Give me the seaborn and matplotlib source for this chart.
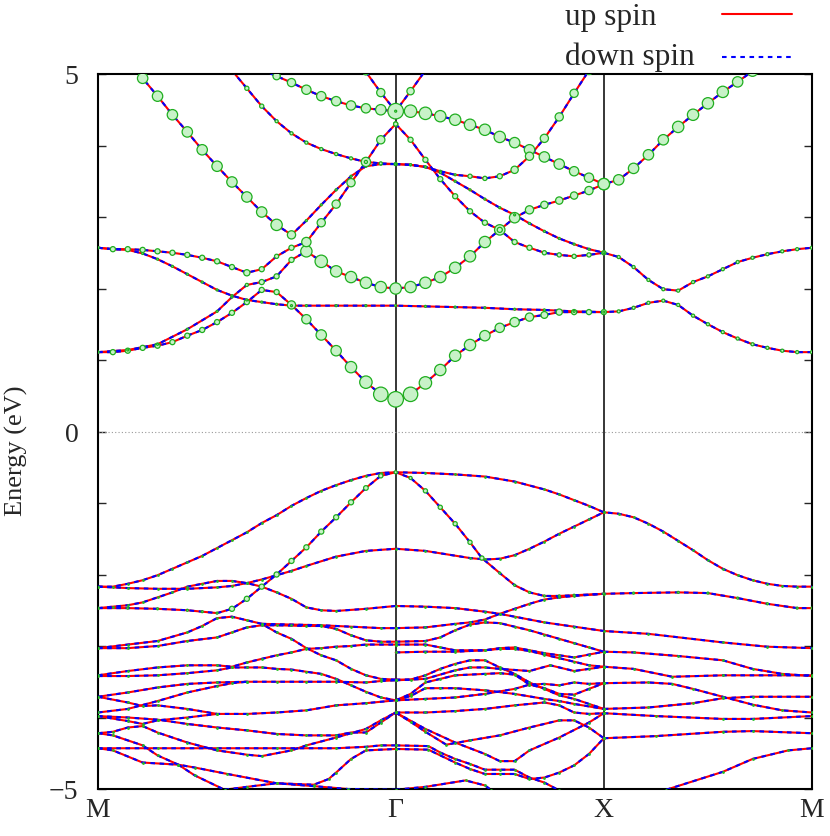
import numpy as np
import pandas as pd
import matplotlib
matplotlib.use('Agg')
import matplotlib.pyplot as plt
import seaborn as sns
from matplotlib.lines import Line2D

# k-path M -> Gamma -> X -> M, positions given as k-point index along the path
seg_len = [1.43, 1.0, 1.0]
seg_pts = [20, 14, 14]
k_labels = ['M', 'Γ', 'X', 'M']
legend_labels = ['up spin', 'down spin']

# conduction bands with orbital weight: (k index, energy in eV, weight 0..1)
cb_a = [(0, 1.11, .13), (1, 1.11, .33), (2, 1.13, .33), (3, 1.17, .33), (4, 1.20, .33), (5, 1.25, .33),
        (6, 1.34, .33), (7, 1.42, .33), (8, 1.53, .33), (9, 1.66, .33), (10, 1.81, .33), (11, 1.98, .33),
        (12, 1.95, .33), (13, 1.77, .53), (14, 1.57, .6), (15, 1.35, .67), (16, 1.13, .67), (17, 0.90, .73),
        (18, 0.69, .8), (19, 0.52, .93), (20, 0.45, 1.0), (21, 0.52, .93), (22, 0.68, .8), (23, 0.86, .73),
        (24, 1.06, .73), (25, 1.21, .73), (26, 1.34, .67), (27, 1.45, .6), (28, 1.53, .6), (29, 1.60, .53),
        (30, 1.63, .44), (31, 1.67, .4), (32, 1.67, .33), (33, 1.67, .33), (34, 1.67, .33), (35, 1.68, .2),
        (36, 1.73, .2), (37, 1.80, .2), (38, 1.83, .2), (39, 1.77, .2), (40, 1.62, .2), (41, 1.50, .2),
        (42, 1.39, .2), (43, 1.30, .2), (44, 1.22, .2), (45, 1.17, .2), (46, 1.13, .2), (47, 1.11, .2),
        (48, 1.11, .2)]
cb_flat = [(0, 2.57, .13), (1, 2.55, .13), (2, 2.54, .13), (3, 2.49, .13), (4, 2.41, .13), (5, 2.31, .13),
           (6, 2.20, .13), (7, 2.09, .13), (8, 1.98, .13), (9, 1.90, .13), (10, 1.84, .13), (11, 1.81, .13),
           (12, 1.78, .13), (13, 1.76, .13), (14, 1.76, .13), (16, 1.76, .13), (18, 1.76, .13), (20, 1.76, .13),
           (22, 1.75, .13), (24, 1.74, .13), (26, 1.73, .13), (28, 1.71, .13), (30, 1.70, .13), (32, 1.68, .13),
           (34, 1.67, .13)]
cb_b = [(0, 1.11, .13), (2, 1.14, .13), (4, 1.22, .13), (6, 1.43, .13), (8, 1.68, .13), (9, 1.88, .13),
        (10, 2.05, .2), (11, 2.09, .33), (12, 2.17, .33), (13, 2.40, .33), (14, 2.52, .73), (15, 2.38, .8),
        (16, 2.24, .73), (17, 2.16, .73), (18, 2.08, .73), (19, 2.02, .73), (20, 2.00, .73), (21, 2.02, .73),
        (22, 2.08, .73), (23, 2.16, .73), (24, 2.29, .73), (25, 2.45, .73), (26, 2.65, .73), (27, 2.82, .67),
        (28, 2.99, .67), (29, 3.10, .53), (30, 3.17, .47), (31, 3.23, .47), (32, 3.30, .47), (33, 3.37, .53),
        (34, 3.46, .73), (35, 3.52, .67), (36, 3.68, .67), (37, 3.87, .67), (38, 4.08, .67), (39, 4.26, .73),
        (40, 4.43, .73), (41, 4.59, .73), (42, 4.75, .73), (43, 4.89, .67), (44, 5.04, .67)]
cb_big = [(11, 5.06, .4), (12, 4.97, .47), (13, 4.88, .53), (14, 4.78, .6), (15, 4.69, .6), (16, 4.62, .6),
          (17, 4.56, .6), (18, 4.52, .6), (19, 4.50, .67), (20, 4.48, 1.0), (21, 4.48, .8), (22, 4.45, .8),
          (23, 4.41, .73), (24, 4.36, .73), (25, 4.29, .73), (26, 4.22, .73), (27, 4.12, .73), (28, 4.04, .67),
          (29, 3.94, .67), (30, 3.84, .67), (31, 3.74, .67), (32, 3.64, .6), (33, 3.55, .6), (34, 3.46, .73)]
cb_steep = [(2, 5.20, .67), (3, 4.94, .67), (4, 4.69, .67), (5, 4.43, .67), (6, 4.19, .67), (7, 3.94, .67),
            (8, 3.71, .67), (9, 3.49, .67), (10, 3.28, .67), (11, 3.07, .67), (12, 2.89, .73), (13, 2.75, .53),
            (14, 2.95, .13), (15, 3.17, .13), (16, 3.38, .13), (17, 3.57, .13), (18, 3.71, .13), (19, 3.74, .13),
            (20, 3.74, .13)]
cb_beta = [(0, 2.57, .13), (1, 2.55, .33), (2, 2.55, .33), (3, 2.54, .33), (4, 2.52, .33), (5, 2.50, .33),
           (6, 2.47, .33), (7, 2.43, .33), (8, 2.38, .33), (9, 2.30, .33), (10, 2.22, .4), (11, 2.27, .33),
           (12, 2.45, .27), (13, 2.57, .33), (14, 2.65, .6), (15, 2.92, .53), (16, 3.18, .53), (17, 3.48, .53),
           (18, 3.77, .6), (19, 4.08, .53), (20, 4.30, .27)]
cb_kappa = [(9, 5.05, .2), (10, 4.80, .27), (11, 4.55, .27), (12, 4.34, .2), (13, 4.17, .2), (14, 4.04, .2),
            (15, 3.95, .2), (16, 3.88, .2), (17, 3.82, .2), (18, 3.77, .2), (19, 3.75, .2), (20, 3.74, .2)]
cb_v = [(18, 5.03, .4), (19, 4.74, .53), (20, 4.48, .13), (21, 4.76, .47), (22, 5.05, .4)]
cb_delta = [(20, 4.30, .27), (21, 4.08, .33), (22, 3.80, .33), (23, 3.53, .33), (24, 3.29, .33), (25, 3.08, .33),
            (26, 2.92, .33), (27, 2.82, .33), (28, 2.65, .33), (29, 2.57, .33), (30, 2.50, .27), (31, 2.47, .27),
            (32, 2.45, .27), (33, 2.47, .27), (34, 2.50, .27)]
cb_zeta = [(20, 3.74, .13), (21, 3.73, .13), (22, 3.70, .13), (23, 3.64, .13), (24, 3.59, .13), (25, 3.57, .27),
           (26, 3.54, .27), (27, 3.57, .33), (28, 3.66, .47), (29, 3.85, .53), (30, 4.10, .53), (31, 4.40, .53),
           (32, 4.73, .53), (33, 5.05, .53)]
cb_eps = [(20, 3.74, .13), (21, 3.73, .13), (22, 3.70, .13), (23, 3.62, .13), (24, 3.50, .13), (25, 3.38, .13),
          (26, 3.25, .13), (27, 3.13, .13), (28, 3.03, .13), (29, 2.91, .13), (30, 2.80, .13), (31, 2.70, .13),
          (32, 2.62, .13), (33, 2.55, .13), (34, 2.50, .13), (35, 2.44, .2), (36, 2.30, .2), (37, 2.12, .2),
          (38, 1.99, .2), (39, 1.97, .2), (40, 2.09, .2), (41, 2.17, .2), (42, 2.27, .2), (43, 2.37, .2),
          (44, 2.43, .2), (45, 2.48, .2), (46, 2.52, .2), (47, 2.55, .2), (48, 2.57, .2)]
vb2 = [(0, -2.47, .13), (2, -2.47, .13), (4, -2.48, .13), (6, -2.50, .13), (7, -2.52, .13), (8, -2.54, .13),
       (9, -2.48, .33), (10, -2.34, .33), (11, -2.17, .33), (12, -2.00, .33), (13, -1.81, .33), (14, -1.62, .33),
       (15, -1.40, .33), (16, -1.20, .33), (17, -0.99, .33), (18, -0.79, .3), (19, -0.62, .27), (20, -0.57, .2),
       (21, -0.65, .2), (22, -0.83, .27), (23, -1.06, .27), (24, -1.29, .27), (25, -1.55, .27), (25.8, -1.77, .27),
       (27, -1.98, .13), (28, -2.15, .13), (29, -2.25, .13), (30, -2.30, .13), (31, -2.30, .13), (32, -2.29, .13),
       (34, -2.27, .13), (36, -2.26, .13), (39, -2.25, .13), (41, -2.26, .13), (43, -2.33, .13), (45, -2.41, .13),
       (47, -2.47, .13), (48, -2.47, .13)]

# valence bands: (k index, energy in eV)
vb1 = [(0, -2.17), (1, -2.17), (2, -2.13), (3, -2.08), (4, -2.01), (5, -1.92), (6, -1.83), (7, -1.74),
       (8, -1.63), (9, -1.52), (10, -1.41), (11, -1.28), (12, -1.17), (13, -1.04), (14, -0.93), (15, -0.83),
       (16, -0.75), (17, -0.68), (18, -0.62), (19, -0.58), (20, -0.57), (22, -0.58), (24, -0.60), (26, -0.63),
       (28, -0.70), (30, -0.81), (31, -0.88), (32, -0.96), (33, -1.04), (34, -1.13), (35, -1.15), (36, -1.20),
       (37, -1.29), (38, -1.40), (39, -1.53), (40, -1.66), (41, -1.80), (42, -1.92), (43, -2.01), (44, -2.08),
       (45, -2.13), (46, -2.16), (47, -2.17), (48, -2.17)]
vb3 = [(0, -2.17), (2, -2.19), (4, -2.20), (6, -2.20), (8, -2.18), (9, -2.16), (10, -2.12), (11, -2.07),
       (12, -2.01), (13, -1.95), (14, -1.88), (16, -1.75), (18, -1.67), (20, -1.64), (22, -1.67), (25, -1.77),
       (26, -1.79), (27, -1.78), (28, -1.73), (29, -1.64), (30, -1.54), (31, -1.43), (32, -1.33), (33, -1.23),
       (34, -1.13)]
vb4 = [(0, -2.47), (1, -2.45), (2, -2.43), (3, -2.39), (4, -2.32), (5, -2.25), (6, -2.17), (7, -2.13),
       (8, -2.09), (9, -2.09), (10, -2.12), (11, -2.17), (12, -2.25), (13, -2.34), (14, -2.46), (15, -2.50),
       (16, -2.51), (18, -2.48), (20, -2.44), (22, -2.45), (24, -2.47), (26, -2.52), (27, -2.55), (28, -2.59),
       (30, -2.67), (32, -2.73), (34, -2.79), (37, -2.83), (42, -2.95), (45, -3.01), (48, -3.03)]
mg5 = [(0, -3.03), (2, -2.98), (4, -2.93), (6, -2.81), (7, -2.72), (8, -2.61), (9, -2.59), (10, -2.64),
       (11, -2.69), (12, -2.81), (13, -2.90), (14, -3.03), (15, -3.13), (16, -3.20), (17, -3.32), (18, -3.41),
       (19, -3.46), (20, -3.47)]
mg6 = [(0, -3.03), (2, -3.03), (4, -3.00), (6, -2.93), (8, -2.88), (9, -2.81), (10, -2.74), (11, -2.71),
       (12, -2.71), (14, -2.72), (15, -2.72), (16, -2.76), (17, -2.85), (18, -2.92), (19, -2.94), (20, -2.94)]
mg7 = [(11, -2.69), (13, -2.70), (15, -2.71), (17, -2.73), (19, -2.75), (20, -2.75)]
mg8 = [(0, -3.41), (2, -3.35), (4, -3.30), (6, -3.27), (8, -3.27), (9, -3.29), (10, -3.23), (11, -3.18),
       (12, -3.13), (13, -3.09), (14, -3.04), (15, -3.03), (16, -3.01), (17, -3.00), (18, -2.98), (20, -2.98)]
mg9 = [(0, -3.42), (2, -3.42), (4, -3.41), (6, -3.38), (8, -3.34), (9, -3.30), (10, -3.30), (11, -3.30),
       (12, -3.32), (13, -3.33), (14, -3.36), (15, -3.39), (16, -3.46), (17, -3.55), (18, -3.64), (19, -3.72),
       (20, -3.76)]
mg10 = [(0, -3.71), (2, -3.65), (4, -3.58), (6, -3.53), (8, -3.51), (10, -3.50), (12, -3.50), (14, -3.50),
        (16, -3.50), (18, -3.51), (19, -3.49), (20, -3.48)]
mg11 = [(0, -3.71), (2, -3.79), (3, -3.84), (4, -3.83), (6, -3.88), (8, -3.95), (10, -3.95), (12, -3.93),
        (14, -3.90), (16, -3.83), (18, -3.80), (20, -3.76)]
mg12 = [(0, -3.93), (2, -3.88), (4, -3.77), (6, -3.65), (8, -3.56), (9, -3.52), (10, -3.50)]
mg13 = [(0, -3.98), (2, -4.05), (3, -4.09), (4, -4.04), (6, -4.00), (8, -3.95)]
mg14 = [(0, -3.98), (2, -4.00), (4, -4.03), (6, -4.09), (8, -4.14), (10, -4.18), (12, -4.23), (14, -4.25),
        (15, -4.25), (16, -4.25), (17, -4.21), (18, -4.21), (19, -4.07), (20, -3.93)]
mg15 = [(0, -4.22), (1, -4.20), (2, -4.14), (3, -4.12), (4, -4.21), (6, -4.35), (8, -4.46), (10, -4.52),
        (11, -4.54), (13, -4.46), (14, -4.39), (16, -4.28), (18, -4.16), (19, -4.04), (20, -3.93)]
mg16 = [(0, -4.22), (1, -4.25), (3, -4.39), (4, -4.53), (5.4, -4.66), (6.5, -4.70), (8.7, -4.79), (12, -4.92),
        (14.5, -4.96), (16.8, -5.00), (20, -5.01)]
mg17 = [(0, -4.43), (4, -4.43), (8, -4.43), (12, -4.43), (16, -4.43), (18, -4.41), (19, -4.39), (20, -4.39)]
mg18 = [(0, -4.43), (1, -4.46), (3, -4.63), (5.4, -4.66), (6.5, -4.81), (8.5, -5.01), (9, -5.05)]
mg19 = [(8.5, -5.01), (10, -4.97), (12, -4.92), (14.5, -4.94), (15.5, -4.86), (16, -4.77), (17, -4.58),
        (18, -4.46), (20, -4.44)]
gx_b = [(20, -2.75), (22, -2.74), (24, -2.69), (25, -2.67), (26, -2.63), (27, -2.55), (28, -2.48), (29, -2.41),
        (30, -2.35), (31, -2.32), (32, -2.30), (34, -2.27)]
gx_c = [(20, -2.94), (22, -2.93), (23, -2.88), (24, -2.78), (25, -2.70), (26, -2.67), (27, -2.68), (28, -2.73),
        (29, -2.78), (30, -2.84), (31, -2.90), (32, -2.96), (33, -3.02), (34, -3.08)]
gx_d = [(20, -2.98), (22, -2.98), (23, -3.02), (24, -3.06), (26, -3.06), (27, -3.03), (28, -3.02), (29, -3.06),
        (30, -3.10), (31, -3.13), (32, -3.16), (33, -3.12), (34, -3.08)]
gx_e = [(20, -3.09), (22, -3.08), (24, -3.08), (26, -3.06), (27, -3.04), (28, -3.04), (29, -3.07), (30, -3.12),
        (31, -3.17), (32, -3.22), (33, -3.27), (34, -3.29)]
gx_f = [(20, -3.47), (21, -3.47), (22, -3.41), (23, -3.32), (24, -3.25), (25, -3.20), (26, -3.20), (27, -3.30),
        (28, -3.39), (29, -3.51), (30, -3.60), (31, -3.69), (32, -3.74), (33, -3.81), (34, -3.88)]
gx_g = [(20, -3.48), (22, -3.46), (24, -3.34), (25, -3.30), (26, -3.30), (27, -3.32), (29, -3.35), (30.4, -3.27),
        (32, -3.35), (33, -3.32), (34, -3.29)]
gx_h = [(20, -3.76), (21, -3.67), (22, -3.51), (23, -3.46), (24, -3.41), (26, -3.39), (27, -3.38), (28, -3.40),
        (29, -3.54), (30, -3.59), (31, -3.67), (32, -3.68), (33, -3.60), (34, -3.52)]
gx_i = [(20, -3.76), (21, -3.70), (22, -3.59), (23, -3.59), (24, -3.59), (26, -3.62), (28, -3.67), (30, -3.74),
        (31, -3.77), (32, -3.81), (34, -3.88)]
gx_j = [(20, -3.76), (22, -3.74), (24, -3.72), (26, -3.67), (28, -3.60), (29, -3.54), (30, -3.53), (31, -3.55),
        (32, -3.51), (33, -3.53), (34, -3.52)]
gx_k = [(20, -3.93), (22, -3.93), (24, -3.91), (26, -3.88), (28, -3.83), (30, -3.79), (31, -3.83), (32, -3.93),
        (33, -3.95), (34, -3.94)]
gx_l = [(20, -3.93), (21, -4.06), (22, -4.20), (23.4, -4.38), (25, -4.32), (27, -4.25), (29, -4.14), (31, -4.04),
        (32, -4.04), (33, -4.14), (34, -4.29)]
gx_m = [(20, -3.93), (22, -4.16), (24, -4.35), (26, -4.51), (27, -4.61), (28, -4.61), (29, -4.46), (31, -4.28),
        (33, -4.07), (34, -3.94)]
gx_n = [(20, -4.39), (22.2, -4.40), (23, -4.49), (24, -4.58), (25, -4.65), (26, -4.73), (27, -4.73), (28, -4.73),
        (29, -4.84), (30, -4.91), (31, -5.02)]
gx_o = [(20, -4.44), (22.2, -4.45), (24, -4.63), (25, -4.72), (26, -4.79), (27, -4.79), (28, -4.79), (29, -4.86),
        (30, -4.84), (31, -4.77), (32, -4.67), (33, -4.51), (34, -4.29)]
gx_p = [(20, -5.01), (22, -4.97), (24.7, -4.88), (26, -4.95), (26.4, -5.01)]
xm_3 = [(34, -3.08), (36, -3.09), (39, -3.14), (42, -3.20), (44, -3.32), (46, -3.39), (48, -3.42)]
xm_4 = [(34, -3.29), (36, -3.32), (38.6, -3.43), (42, -3.41), (48, -3.41)]
xm_5 = [(34, -3.52), (37, -3.51), (38.6, -3.53), (40, -3.60), (42, -3.71), (44, -3.82), (46, -3.90), (48, -3.93)]
xm_6 = [(34, -3.88), (37, -3.86), (40, -3.80), (42, -3.73), (44, -3.71), (48, -3.71)]
xm_7 = [(34, -3.94), (37.5, -3.98), (42, -4.02), (44, -4.02), (48, -3.98)]
xm_8 = [(34, -4.29), (37.5, -4.26), (42, -4.20), (44, -4.19), (48, -4.22)]
xm_9 = [(38.2, -5.01), (42, -4.76), (44, -4.58), (46.4, -4.46), (48, -4.43)]

weighted = [cb_a, cb_flat, cb_b, cb_big, cb_steep, cb_beta, cb_kappa, cb_v, cb_delta, cb_zeta, cb_eps, vb2]
plain = [vb1, vb3, vb4, mg5, mg6, mg7, mg8, mg9, mg10, mg11, mg12, mg13, mg14, mg15, mg16, mg17, mg18, mg19,
         gx_b, gx_c, gx_d, gx_e, gx_f, gx_g, gx_h, gx_i, gx_j, gx_k, gx_l, gx_m, gx_n, gx_o, gx_p,
         xm_3, xm_4, xm_5, xm_6, xm_7, xm_8, xm_9]

bounds = np.cumsum([0] + seg_pts)
starts = np.cumsum([0] + seg_len)


def kdist(i):
    for s in range(len(seg_pts)):
        if i <= bounds[s + 1]:
            return starts[s] + (i - bounds[s]) / seg_pts[s] * seg_len[s]
    return starts[-1]


rows = []
for b, pts in enumerate(weighted):
    for p in pts:
        rows.append((f'w{b}', kdist(p[0]), p[1], p[2]))
for b, pts in enumerate(plain):
    for p in pts:
        rows.append((f'p{b}', kdist(p[0]), p[1], np.nan))
df = pd.DataFrame(rows, columns=['band', 'k', 'E', 'w'])

sns.set_style('white')
plt.rcParams['font.family'] = ['Liberation Serif', 'DejaVu Serif']

fig = plt.figure(figsize=(8.3, 8.37), dpi=100)
ax = fig.add_axes([98 / 830, 1 - 790 / 837, 714 / 830, 715 / 837])

for kx in starts[1:-1]:
    ax.axvline(kx, color='black', lw=1.1, zorder=1)
ax.axhline(0, color='#999999', lw=0.8, linestyle=(0, (1, 2)), zorder=1)

dash = (0, (2.2, 2.2))
sns.lineplot(data=df, x='k', y='E', units='band', estimator=None, sort=False,
             color='red', lw=1.5, legend=False, ax=ax, zorder=2)
sns.lineplot(data=df, x='k', y='E', units='band', estimator=None, sort=False,
             color='blue', lw=1.5, linestyle=dash, legend=False, ax=ax, zorder=3)

specks = df[df['w'].isna()]
sns.scatterplot(data=specks, x='k', y='E', s=4, color='#22bb22', linewidth=0,
                legend=False, ax=ax, zorder=4)
dots = df.dropna(subset=['w']).copy()
dots['w2'] = dots['w'] ** 2
sns.scatterplot(data=dots, x='k', y='E', size='w2', sizes=(0, 125), size_norm=(0, 1),
                color='#c8f2c8', edgecolor='#1fae1f', linewidth=0.9,
                legend=False, ax=ax, zorder=5)

ax.set_xlim(starts[0], starts[-1])
ax.set_ylim(-5, 5)
ax.set_xticks(starts)
ax.set_xticklabels(k_labels, fontsize=20)
ax.set_yticks(range(-5, 6))
ax.set_yticklabels(['\u22125' if v == -5 else str(v) if v in (0, 5) else '' for v in range(-5, 6)],
                   fontsize=20)
ax.tick_params(axis='y', direction='in', length=6, width=1, left=True, right=True, pad=14)
ax.tick_params(axis='x', length=0, pad=6)
ax.set_xlabel('')
ax.set_ylabel('Energy (eV)', fontsize=19)
ax.yaxis.set_label_coords(-0.098, 0.475)
for sp in ax.spines.values():
    sp.set_color('black')
    sp.set_linewidth(1.5)

# key: labels left-aligned in one column, line samples aligned in the next
key_styles = [dict(color='red', lw=1.5), dict(color='blue', lw=1.5, linestyle=dash)]
for row, (label, style) in enumerate(zip(legend_labels, key_styles)):
    y_text = 1 - (25 + 40 * row) / 837
    y_line = 1 - (15 + 43 * row) / 837
    fig.text(565 / 830, y_text, label, fontsize=22.5, va='baseline', ha='left')
    fig.add_artist(Line2D([722 / 830, 792 / 830], [y_line, y_line], transform=fig.transFigure, **style))

fig.savefig('out.png', dpi=100)
plt.close(fig)
